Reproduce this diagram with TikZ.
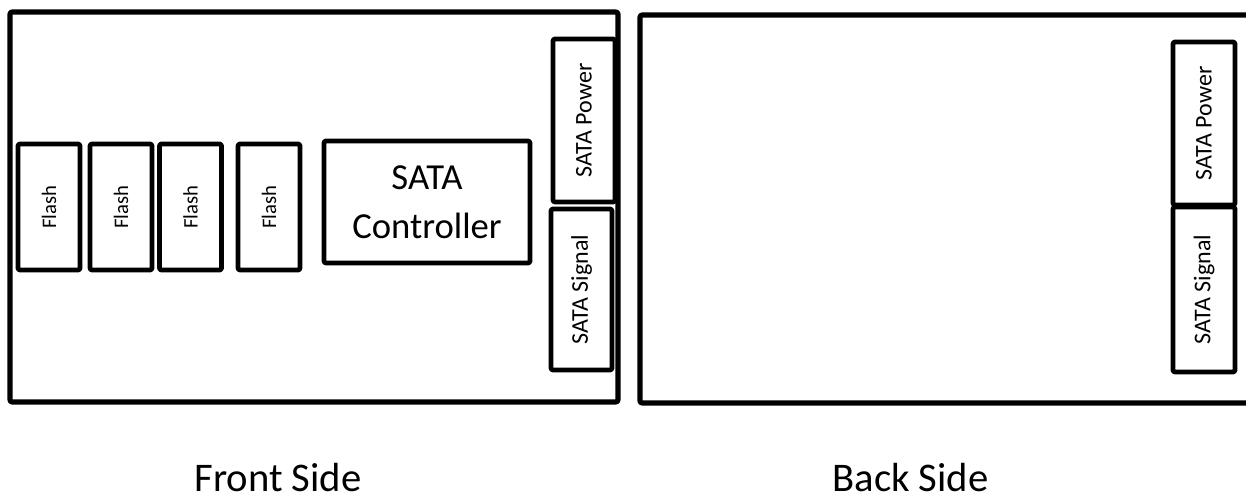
\documentclass[tikz,border=0pt]{standalone}
\usepackage{fontspec}
\setmainfont{Carlito}
\usetikzlibrary{positioning}

\begin{document}
\begin{tikzpicture}[
  x=0.75pt, y=-0.75pt, line join=round,
  board/.style={line width=3.8pt, rounded corners=1.5pt},
  chip/.style={draw, line width=3.6pt, rounded corners=1.5pt, inner sep=0pt, align=center},
  flashchip/.style={chip, rotate=90, minimum width=126*\u, minimum height=62*\u,
    font=\fontsize{15.5}{18}\selectfont},
  portchip/.style={chip, rotate=90, minimum height=62*\u,
    font=\fontsize{18}{21}\selectfont},
  sidelbl/.style={font=\fontsize{30.5}{36}\selectfont, anchor=base}]

\def\u{0.75pt}   % one pixel of the reference

\useasboundingbox (0,0) rectangle (1246,502);

% ================================================================ front side
\draw[board] (10,12) rectangle (618,402);
\foreach \n/\cx in {1/49, 2/121, 3/190.5, 4/269}
  \node[flashchip] (flash\n) at (\cx,207) {Flash};
\node[chip, minimum width=206*\u, minimum height=122*\u,
  font=\fontsize{27.5}{37}\selectfont] (ctrl) at (427,202) {SATA\\Controller};
\node[portchip, minimum width=163*\u] (fpower) at (584,120.5) {SATA Power};
\node[portchip, minimum width=161*\u, minimum height=61*\u] (fsignal) at (581.5,289.5) {SATA Signal};
\node[sidelbl] (front) at (278,491) {Front Side};

% ================================================================ back side
\draw[board] (1246,15) -- (640,15) -- (640,403) -- (1246,403);
\node[portchip, minimum width=163*\u] (bpower) at (1204,123.5) {SATA Power};
\node[portchip, minimum width=165*\u] (bsignal) at (1204,289.5) {SATA Signal};
\node[sidelbl] (back) at (910.5,491) {Back Side};

\end{tikzpicture}
\end{document}
